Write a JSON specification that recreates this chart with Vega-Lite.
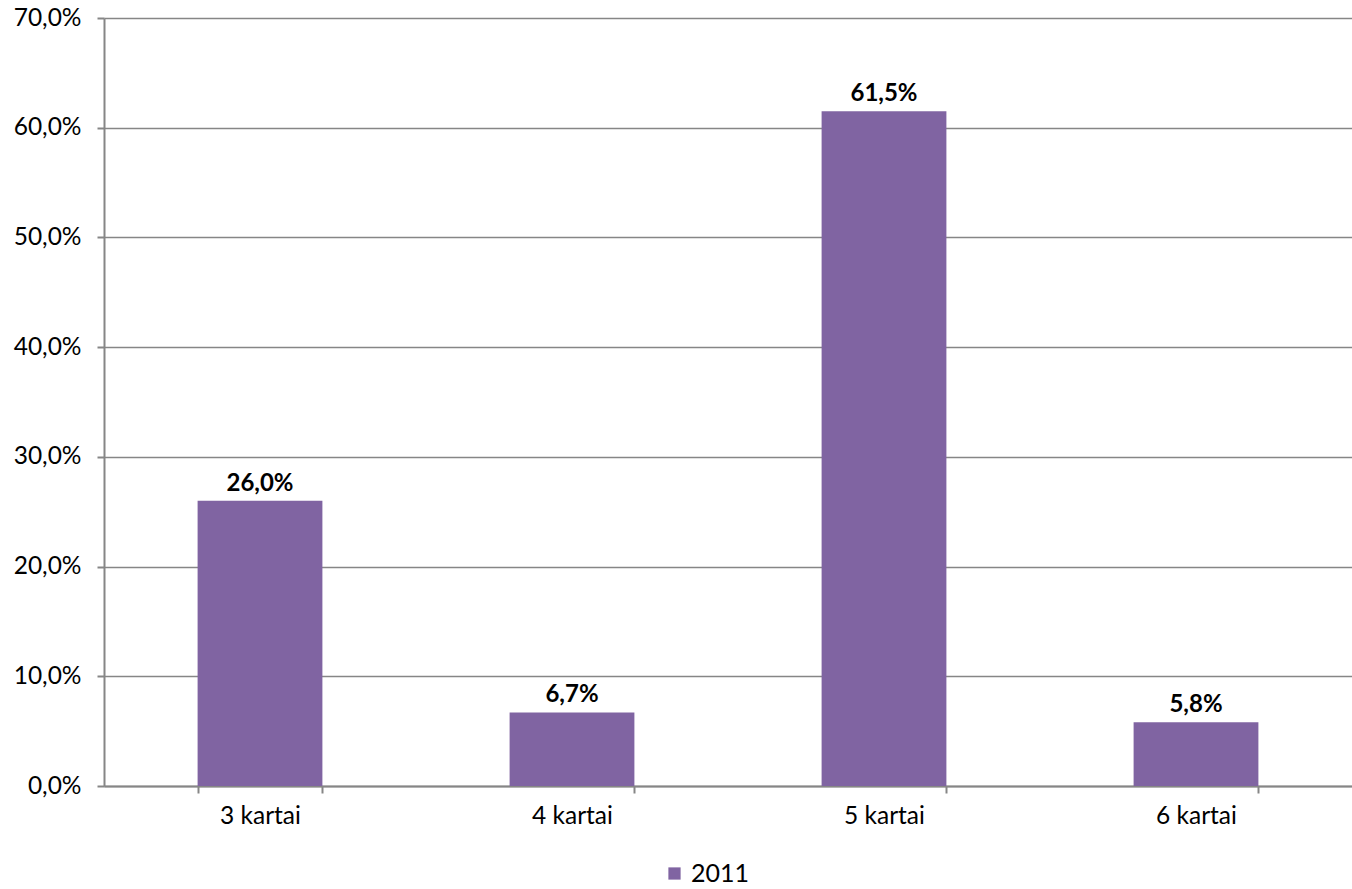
{
  "$schema": "https://vega.github.io/schema/vega-lite/v6.json",
  "width": 1248,
  "height": 768,
  "autosize": {"type": "none"},
  "padding": {"left": 104, "top": 18, "right": 0, "bottom": 103},
  "background": "white",
  "config": {
    "locale": {"number": {"decimal": ",", "thousands": " ", "grouping": [3], "currency": ["", " €"]}},
    "font": "Lato",
    "view": {"stroke": null}
  },
  "data": {
    "values": [
      {"category": "3 kartai", "value": 0.26, "series": "2011"},
      {"category": "4 kartai", "value": 0.067, "series": "2011"},
      {"category": "5 kartai", "value": 0.615, "series": "2011"},
      {"category": "6 kartai", "value": 0.058, "series": "2011"}
    ]
  },
  "encoding": {
    "x": {
      "field": "category",
      "type": "nominal",
      "sort": null,
      "scale": {"paddingInner": 0.6, "paddingOuter": 0.3},
      "axis": {
        "title": null,
        "labelAngle": 0,
        "labelFontSize": 24.5,
        "labelColor": "#000000",
        "labelPadding": 11,
        "tickBand": "extent",
        "tickSize": 7,
        "tickColor": "#868686",
        "tickWidth": 2,
        "domainColor": "#868686",
        "domainWidth": 2,
        "grid": false
      }
    },
    "y": {
      "field": "value",
      "type": "quantitative",
      "scale": {"domain": [0, 0.7]},
      "axis": {
        "title": null,
        "format": ".1%",
        "values": [0, 0.1, 0.2, 0.3, 0.4, 0.5, 0.6, 0.7],
        "labelOverlap": false,
        "labelFontSize": 24.5,
        "labelColor": "#000000",
        "labelPadding": 16,
        "tickSize": 7,
        "tickColor": "#868686",
        "tickWidth": 2,
        "domainColor": "#868686",
        "domainWidth": 2,
        "grid": true,
        "gridColor": "#868686",
        "gridWidth": 1.5
      }
    }
  },
  "layer": [
    {
      "mark": {"type": "bar", "color": "#8064A2"},
      "encoding": {
        "color": {
          "field": "series",
          "type": "nominal",
          "scale": {"range": ["#8064A2"]},
          "legend": {
            "title": null,
            "orient": "none",
            "legendX": 558,
            "legendY": 843,
            "symbolType": "square",
            "symbolSize": 150,
            "symbolStrokeWidth": 0,
            "labelFontSize": 25,
            "labelColor": "#000000",
            "labelOffset": 4
          }
        }
      }
    },
    {
      "mark": {"type": "text", "baseline": "alphabetic", "dy": -10, "fontWeight": "bold", "fontSize": 24, "color": "#000000"},
      "encoding": {
        "text": {"field": "value", "type": "quantitative", "format": ".1%"}
      }
    }
  ]
}
